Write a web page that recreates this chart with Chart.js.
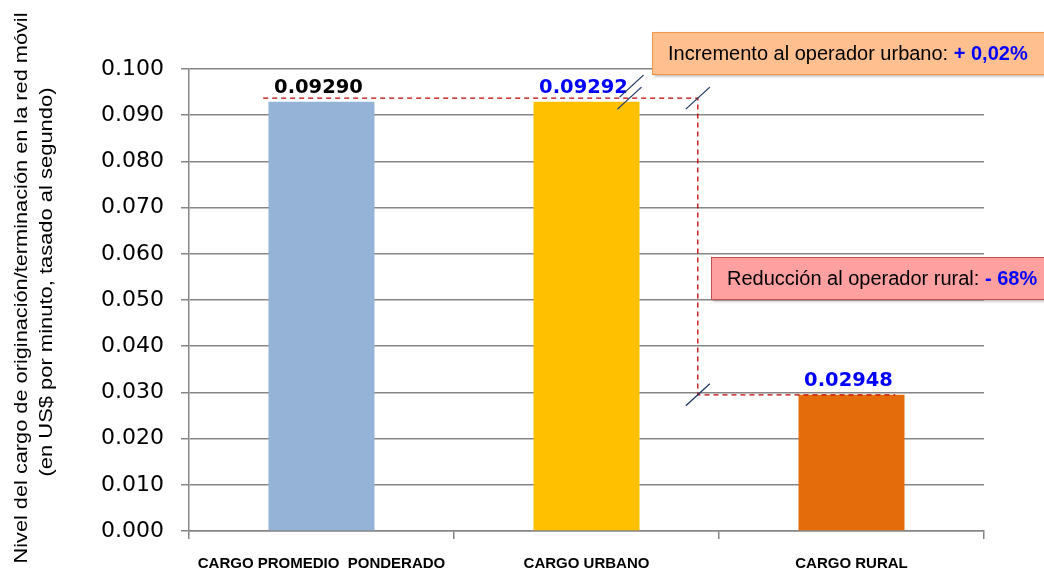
<!DOCTYPE html>
<html>
<head>
<meta charset="utf-8">
<script src="https://cdn.jsdelivr.net/npm/chart.js@4"></script>
<style>
  body { margin: 0; background: #fff; }
  #wrap { width: 1044px; height: 571px; position: relative; }
</style>
</head>
<body>
<div id="wrap"><canvas id="cargoChart"></canvas></div>
<script>
// data
var categories = ["CARGO PROMEDIO  PONDERADO", "CARGO URBANO", "CARGO RURAL"];
var values = [0.09290, 0.09292, 0.02948];
var valueLabels = ["0.09290", "0.09292", "0.02948"];
var labelColors = ["#000000", "#0000FF", "#0000FF"];
var barColors = ["#95B3D7", "#FFC000", "#E46C0A"];
var yTitle = ["Nivel del cargo de originación/terminación en la red móvil", "(en US$ por minuto, tasado al segundo)"];
var noteUp = ["Incremento al operador urbano: ", "+ 0,02%"];
var noteDown = ["Reducción al operador rural: ", "- 68%"];

function slash(ctx, x, y) {
  ctx.beginPath();
  ctx.moveTo(x - 12, y + 11);
  ctx.lineTo(x + 12, y - 11);
  ctx.stroke();
}

function noteBox(ctx, x, y, w, h, fill, border, parts) {
  ctx.save();
  ctx.shadowColor = "rgba(0,0,0,0.35)";
  ctx.shadowOffsetX = 2;
  ctx.shadowOffsetY = 2;
  ctx.shadowBlur = 3;
  ctx.fillStyle = fill;
  ctx.fillRect(x, y, w, h);
  ctx.restore();
  ctx.strokeStyle = border;
  ctx.lineWidth = 1;
  ctx.strokeRect(x + 0.5, y + 0.5, w - 1, h);
  ctx.textBaseline = "middle";
  ctx.textAlign = "left";
  ctx.font = "20px 'Liberation Sans'";
  ctx.fillStyle = "#000";
  ctx.fillText(parts[0], x + 16, y + h / 2 + 1);
  var tw = ctx.measureText(parts[0]).width;
  ctx.font = "bold 20px 'Liberation Sans'";
  ctx.fillStyle = "#0000FF";
  ctx.fillText(parts[1], x + 16 + tw, y + h / 2 + 1);
}

// rotated axis title, stretched along its length like the original
function titleLine(ctx, text, xBase, yMid, len) {
  ctx.save();
  ctx.font = "19px 'Liberation Sans'";
  var w = ctx.measureText(text).width;
  ctx.translate(xBase, yMid);
  ctx.rotate(-Math.PI / 2);
  ctx.scale(len / w, 1);
  ctx.textAlign = "center";
  ctx.textBaseline = "alphabetic";
  ctx.fillStyle = "#000";
  ctx.fillText(text, 0, 0);
  ctx.restore();
}

var extras = {
  id: "extras",
  afterDatasetsDraw: function (chart) {
    var ctx = chart.ctx;
    var xs = chart.scales.x, ys = chart.scales.y;
    var meta = chart.getDatasetMeta(0);

    titleLine(ctx, yTitle[0], 27, 288, 551);
    titleLine(ctx, yTitle[1], 52, 282, 389);

    // value labels
    ctx.save();
    ctx.font = "bold 19.5px 'DejaVu Sans'";
    ctx.textAlign = "center";
    ctx.textBaseline = "bottom";
    meta.data.forEach(function (bar, i) {
      ctx.fillStyle = labelColors[i];
      ctx.fillText(valueLabels[i], bar.x - 3, bar.y - 4);
    });
    ctx.restore();

    // dashed connectors
    var yU = ys.getPixelForValue(0.0937);
    var yL = ys.getPixelForValue(values[2]);
    var xV = xs.getPixelForValue(1.42);
    ctx.save();
    ctx.strokeStyle = "#C00000";
    ctx.lineWidth = 1.3;
    ctx.setLineDash([5, 4]);
    ctx.beginPath();
    ctx.moveTo(xs.getPixelForValue(-0.22), yU);
    ctx.lineTo(xV, yU);
    ctx.lineTo(xV, yL);
    ctx.lineTo(xs.getPixelForValue(2.165), yL);
    ctx.stroke();
    ctx.restore();

    // break marks
    ctx.save();
    ctx.strokeStyle = "#1F3864";
    ctx.lineWidth = 1.3;
    var xb = meta.data[1].x + 43;
    slash(ctx, xb, yU);
    slash(ctx, xb + 2, yU - 12);
    slash(ctx, xV, yU);
    slash(ctx, xV, yL);
    ctx.restore();

    // notes
    ctx.save();
    noteBox(ctx, 652, 32, 400, 42, "#FFBF8E", "#F79646", noteUp);
    noteBox(ctx, 711, 257, 340, 42, "#FFA0A0", "#C0504D", noteDown);
    ctx.restore();
  }
};

var ctx = document.getElementById("cargoChart").getContext("2d");

new Chart(ctx, {
  type: "bar",
  data: {
    labels: categories,
    datasets: [{
      data: values,
      backgroundColor: barColors,
      barPercentage: 0.4,
      categoryPercentage: 1.0
    }]
  },
  options: {
    responsive: true,
    maintainAspectRatio: false,
    animation: false,
    layout: { padding: { top: 69, right: 60, left: 84, bottom: -18 } },
    plugins: { legend: { display: false }, tooltip: { enabled: false } },
    scales: {
      x: {
        grid: { drawOnChartArea: false, offset: true, tickLength: 8, color: "#868686", lineWidth: 1.5 },
        border: { color: "#868686", width: 1.5 },
        ticks: {
          color: "#000",
          padding: 16,
          font: { family: "'Liberation Sans'", size: 15, weight: "bold" }
        }
      },
      y: {
        min: 0,
        max: 0.1,
        grid: { color: "#868686", lineWidth: 1.5, tickLength: 8 },
        border: { color: "#868686", width: 1.5 },
        ticks: {
          stepSize: 0.01,
          color: "#000",
          padding: 17,
          font: { family: "'DejaVu Sans'", size: 22 },
          callback: function (v) { return v.toFixed(3); }
        }
      }
    }
  },
  plugins: [extras]
});
</script>
</body>
</html>
